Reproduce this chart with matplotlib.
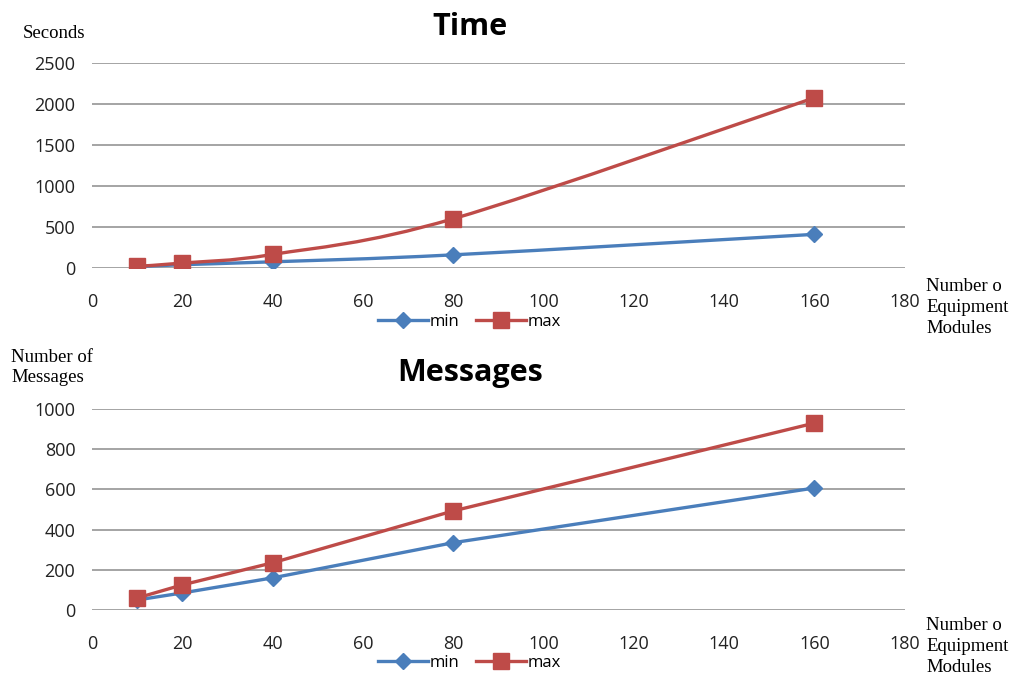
import numpy as np
import matplotlib
matplotlib.use('Agg')
import matplotlib.pyplot as plt
from matplotlib.path import Path
from matplotlib.patches import PathPatch

# data
modules = [10, 20, 40, 80, 160]
time_min = [15, 40, 75, 160, 410]
time_max = [20, 60, 165, 600, 2075]
msg_min = [50, 85, 160, 335, 607]
msg_max = [60, 125, 235, 493, 930]

blue = '#4A7EBB'
red = '#BE4B48'
sans = 'Open Sans'
serif = 'Liberation Serif'


def smooth_path(x, y):
    # Excel-style smoothed line: cubic bezier segments through the data points
    x = np.asarray(x, float)
    y = np.asarray(y, float)
    verts = [(x[0], y[0])]
    codes = [Path.MOVETO]
    n = len(x)
    for i in range(n - 1):
        p0 = np.array([x[max(i - 1, 0)], y[max(i - 1, 0)]])
        p1 = np.array([x[i], y[i]])
        p2 = np.array([x[i + 1], y[i + 1]])
        p3 = np.array([x[min(i + 2, n - 1)], y[min(i + 2, n - 1)]])
        c1 = p1 + (p2 - p0) / 6
        c2 = p2 - (p3 - p1) / 6
        verts += [tuple(c1), tuple(c2), tuple(p2)]
        codes += [Path.CURVE4] * 3
    return Path(verts, codes)


def draw(ax, series, ymax, ystep, title, smooth):
    for vals, col, mk, ms, lab in series:
        if smooth:
            ax.add_patch(PathPatch(smooth_path(modules, vals), fill=False, ec=col, lw=2.4, zorder=3))
            ax.plot(modules, vals, ls='none', marker=mk, ms=ms, color=col, zorder=4)
            ax.plot([], [], color=col, lw=2.4, marker=mk, ms=ms, label=lab)
        else:
            ax.plot(modules, vals, color=col, lw=2.4, marker=mk, ms=ms, label=lab, zorder=3)
    ax.set_xlim(0, 180)
    ax.set_ylim(0, ymax)
    ax.set_xticks(np.arange(0, 181, 20))
    ax.set_yticks(np.arange(0, ymax + 1, ystep))
    ax.yaxis.grid(True, color='#8c8c8c', lw=1.1)
    ax.set_axisbelow(True)
    for s in ax.spines.values():
        s.set_visible(False)
    ax.tick_params(length=0, labelsize=13, colors='#222222')
    ax.tick_params(axis='x', pad=18)
    ax.tick_params(axis='y', pad=12)
    for t in ax.get_xticklabels() + ax.get_yticklabels():
        t.set_fontfamily(sans)
    ax.set_title(title, fontsize=22, fontweight='bold', fontfamily=sans, x=0.465, pad=20)
    leg = ax.legend(loc='center', bbox_to_anchor=(0.465, -0.265), ncol=2, frameon=False,
                    handlelength=3.0, columnspacing=1.0, handletextpad=0.1,
                    prop={'family': sans, 'size': 12})
    return leg


fig = plt.figure(figsize=(10.17, 6.76), dpi=100)
ax1 = fig.add_axes([0.0905, 0.6036, 0.799, 0.3033])
ax2 = fig.add_axes([0.0905, 0.0976, 0.799, 0.2973])

draw(ax1, [(time_min, blue, 'D', 8, 'min'), (time_max, red, 's', 11, 'max')], 2500, 500, 'Time', True)
draw(ax2, [(msg_min, blue, 'D', 8, 'min'), (msg_max, red, 's', 11, 'max')], 1000, 200, 'Messages', False)

fig.text(0.022, 0.95, 'Seconds', fontfamily=serif, fontsize=13.5, va='center', ha='left')
fig.text(0.011, 0.456, 'Number of\nMessages', fontfamily=serif, fontsize=13.5, va='center', ha='left',
         linespacing=1.2)
fig.text(0.911, 0.545, 'Number o\nEquipment\nModules', fontfamily=serif, fontsize=13.5, va='center',
         ha='left', linespacing=1.3)
fig.text(0.911, 0.044, 'Number o\nEquipment\nModules', fontfamily=serif, fontsize=13.5, va='center',
         ha='left', linespacing=1.3)

fig.savefig('out.png', dpi=100)
